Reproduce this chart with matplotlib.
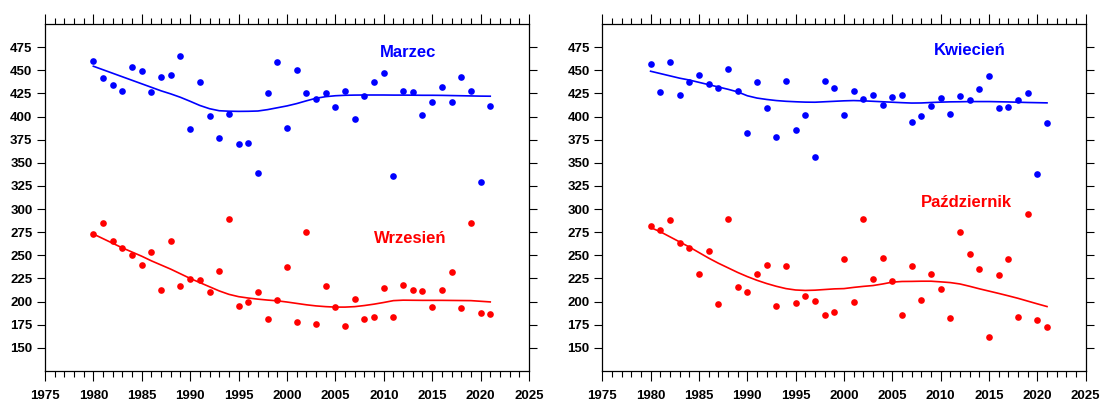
import matplotlib
matplotlib.use("Agg")
import matplotlib.pyplot as plt
from matplotlib.ticker import MultipleLocator

plt.rcParams['font.family'] = ['Liberation Sans', 'DejaVu Sans']

years = list(range(1980, 2022))

# Marzec (March) - points and smoothed line
marzec = [460, 442, 434, 428, 454, 449, 427, 443, 445, 466,
          387, 437, 401, 377, 403, 370, 371, 339, 426, 459,
          388, 450, 425, 419, 426, 410, 428, 397, 422, 437,
          447, 336, 428, 427, 402, 416, 432, 416, 443, 428,
          329, 411]
marzec_trend = [454.4, 450.6, 446.8, 443, 439.2, 435.4, 431.6, 427.8, 424.5, 420.8,
                416.5, 412, 408.5, 406.3, 405.8, 405.6, 405.7, 406, 407.5, 409.5,
                411.5, 414, 417, 419.8, 421.5, 422.5, 423, 423.2, 423.3, 423.3,
                423.3, 423.2, 423.2, 423.1, 423, 423, 422.9, 422.7, 422.5, 422.3,
                422.1, 422]

# Wrzesien (September)
wrzesien = [273, 285, 266, 258, 250, 240, 254, 213, 265, 217,
            224, 223, 210, 233, 289, 195, 200, 210, 181, 202,
            237, 178, 275, 176, 217, 194, 174, 203, 181, 183,
            215, 183, 218, 212, 211, 194, 213, 232, 193, 285,
            188, 187]
wrzesien_trend = [273, 268, 263, 258, 253.5, 249, 244, 239.5, 235, 230,
                  225, 220.5, 216, 211.5, 207.8, 205.3, 203.8, 202.6, 201.6, 200.8,
                  199.5, 198, 196.5, 195.3, 194.5, 194, 194, 194.5, 195.7, 197.2,
                  199, 201, 201.5, 201.4, 201.3, 201.3, 201.3, 201.2, 201.1, 201,
                  200.3, 199.6]

# Kwiecien (April)
kwiecien = [457, 427, 459, 423, 437, 445, 435, 431, 451, 428,
            382, 437, 409, 378, 438, 386, 402, 356, 438, 431,
            402, 428, 419, 423, 413, 421, 423, 394, 401, 411,
            420, 403, 422, 418, 430, 444, 409, 410, 418, 426,
            338, 393]
kwiecien_trend = [449, 446.5, 444, 441.5, 439.5, 437, 434.5, 432, 429.5, 426.7,
                  422.5, 420, 418.5, 417.3, 416.5, 416, 415.6, 415.5, 416, 416.5,
                  417, 417.3, 417, 416.5, 416, 415.5, 415, 414.6, 414.7, 415.2,
                  415.6, 415.9, 416, 416.2, 416.2, 416.2, 416, 415.8, 415.5, 415.2,
                  415, 414.8]

# Pazdziernik (October)
pazdziernik = [282, 277, 288, 263, 258, 230, 255, 197, 289, 216,
               210, 230, 240, 195, 238, 198, 206, 201, 186, 189,
               246, 200, 289, 224, 247, 222, 186, 238, 202, 230,
               214, 182, 275, 251, 235, 162, 229, 246, 183, 295,
               180, 173]
pazdziernik_trend = [280, 275.5, 270, 264.5, 259, 253, 247, 241.5, 236.5, 231.5,
                     227, 223, 219.5, 216.5, 214, 212.5, 212, 212.3, 213, 213.7,
                     214, 215.3, 216.4, 217.3, 219, 221, 221.7, 221.8, 222, 222,
                     221.3, 220.5, 219, 216.5, 213.8, 211.3, 208.8, 206.2, 203.5, 200.5,
                     197.5, 194.6]

panels = [
    ("Marzec", marzec, marzec_trend, (2012.5, 469),
     "Wrzesień", wrzesien, wrzesien_trend, (2012.7, 268.5)),
    ("Kwiecień", kwiecien, kwiecien_trend, (2013.0, 471),
     "Październik", pazdziernik, pazdziernik_trend, (2012.7, 307)),
]

fig = plt.figure(figsize=(11.02, 4.01), dpi=100)
ax_pos = [[0.0408, 0.075, 0.4392, 0.865], [0.5465, 0.075, 0.4387, 0.865]]

for pos, (name1, pts1, tr1, lab1, name2, pts2, tr2, lab2) in zip(ax_pos, panels):
    ax = fig.add_axes(pos)
    ax.plot(years, pts1, 'o', color='blue', ms=4.8, mew=0)
    ax.plot(years, tr1, '-', color='blue', lw=1.2)
    ax.plot(years, pts2, 'o', color='red', ms=4.8, mew=0)
    ax.plot(years, tr2, '-', color='red', lw=1.2)
    ax.text(lab1[0], lab1[1], name1, color='blue', fontsize=12, fontweight='bold',
            ha='center', va='center')
    ax.text(lab2[0], lab2[1], name2, color='red', fontsize=12, fontweight='bold',
            ha='center', va='center')

    ax.set_xlim(1975, 2025)
    ax.set_ylim(125, 500)
    ax.xaxis.set_major_locator(MultipleLocator(5))
    ax.xaxis.set_minor_locator(MultipleLocator(1))
    ax.set_yticks(range(150, 476, 25))
    ax.tick_params(axis='x', which='major', direction='out', length=7.5, width=0.8,
                   top=True, bottom=True, labeltop=False, pad=6)
    ax.tick_params(axis='x', which='minor', direction='out', length=4.5, width=0.8,
                   top=True, bottom=True)
    ax.tick_params(axis='y', which='major', direction='out', length=6, width=0.8,
                   left=True, right=True, labelright=False, pad=3)
    for lbl in ax.get_xticklabels() + ax.get_yticklabels():
        lbl.set_fontweight('bold')
        lbl.set_fontsize(9.5)
    for sp in ax.spines.values():
        sp.set_linewidth(0.9)

fig.savefig("out.png", dpi=100)
